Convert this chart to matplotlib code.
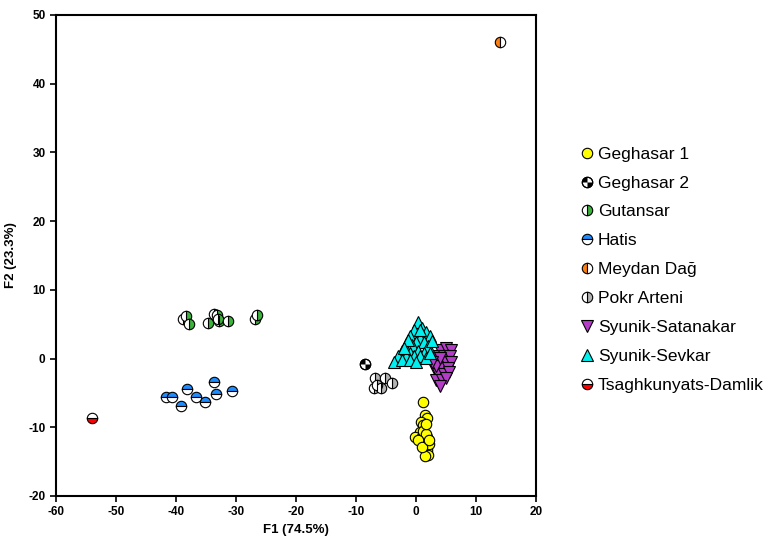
import numpy as np
import matplotlib
matplotlib.use('Agg')
import matplotlib.pyplot as plt
from matplotlib.path import Path
from matplotlib.legend_handler import HandlerTuple

plt.rcParams['font.family'] = ['Liberation Sans', 'DejaVu Sans']
plt.rcParams['axes.unicode_minus'] = False

# PCA scores
geghasar1_x = [1.1, 1.5, 1.8, 0.8, 1.2, 0.7, -0.2, 0.9, 1.8, 1.5, 1.8, 2.0, 1.5,
               1.2, 1.6, 2.1, 0.3, 1.0, 1.7, 2.2]
geghasar1_y = [-6.3, -8.2, -8.7, -9.2, -9.7, -10.7, -11.4, -11.6, -11.4, -12.0, -13.3, -14.0, -14.2,
               -10.5, -11.0, -12.4, -11.8, -12.8, -9.5, -11.8]
geghasar2_x = [-8.5]
geghasar2_y = [-0.8]
gutansar_x = [-38.8, -38.3, -37.8, -34.7, -33.7, -33.2, -32.8, -31.3, -26.8, -26.45, -33.0]
gutansar_y = [5.7, 6.2, 5.1, 5.2, 6.5, 6.3, 5.4, 5.5, 5.7, 6.3, 5.8]
hatis_x = [-41.7, -40.6, -38.1, -39.1, -36.6, -35.1, -33.7, -33.3, -30.6]
hatis_y = [-5.6, -5.6, -4.5, -6.9, -5.6, -6.3, -3.4, -5.1, -4.7]
meydan_x = [14.0]
meydan_y = [46.1]
pokr_x = [-6.8, -5.2, -4.0, -7.0, -5.8, -6.5]
pokr_y = [-2.9, -2.9, -3.6, -4.3, -4.3, -3.9]
satanakar_x = [4.0, 5.0, 5.8, 3.3, 4.7, 5.6, 3.7, 5.0, 5.8, 3.0, 4.3, 5.3, 3.7, 4.7, 5.5,
               3.3, 4.3, 5.0, 4.0, 3.3, 4.0, 2.7]
satanakar_y = [1.2, 1.5, 1.2, 0.4, 0.4, 0.4, -0.5, -0.5, -0.5, -1.4, -1.4, -1.4, -2.3, -2.3, -2.0,
               -3.1, -3.1, -2.8, -4.0, -1.1, 0.1, -0.5]
sevkar_x = [0.3, 1.0, -0.3, 1.7, 2.3, -1.0, 0.7, 0.0, 1.3, -1.7, -0.7, 2.0, -2.3, 0.3, -1.0,
            1.3, -3.0, -1.7, -0.3, -3.7, -2.3, 0.7, 1.7, -1.0, 2.3, 0.0, 2.7, -1.3, 0.7, -2.0]
sevkar_y = [5.3, 4.4, 4.1, 3.9, 3.3, 3.3, 3.0, 2.4, 2.4, 2.1, 1.9, 1.8, 1.1, 1.1, 0.8,
            0.8, 0.4, 0.4, 0.4, -0.5, -0.2, 0.4, 0.1, -0.2, 0.8, -0.5, 2.6, 2.7, 4.1, 1.5]
tsagh_x = [-54.0]
tsagh_y = [-8.7]

fig = plt.figure(figsize=(7.64, 5.43), dpi=100)
ax = fig.add_axes([0.0733, 0.0866, 0.6283, 0.8858])

ms = 7.5
tms = 9
ec = 'black'
mew = 0.8

handles = []
labels = []

h = ax.plot(geghasar1_x, geghasar1_y, 'o', ms=ms, mfc='#ffff00', mec=ec, mew=mew, ls='none')[0]
handles.append(h)
labels.append('Geghasar 1')

# quartered black/white circle
quarters = Path.make_compound_path(Path.wedge(90, 180), Path.wedge(270, 360))
h1 = ax.plot(geghasar2_x, geghasar2_y, 'o', ms=ms, mfc='white', mec=ec, mew=mew, ls='none')[0]
h2 = ax.plot(geghasar2_x, geghasar2_y, marker=quarters, ms=ms, mfc='black', mec='none', ls='none')[0]
h3 = ax.plot(geghasar2_x, geghasar2_y, 'o', ms=ms, mfc='none', mec=ec, mew=mew, ls='none')[0]
handles.append((h1, h2, h3))
labels.append('Geghasar 2')

h = ax.plot(gutansar_x, gutansar_y, 'o', ms=ms, fillstyle='right', mfc='#3cb43c',
            mfcalt='white', mec=ec, mew=mew, ls='none')[0]
handles.append(h)
labels.append('Gutansar')

h = ax.plot(hatis_x, hatis_y, 'o', ms=ms, fillstyle='top', mfc='#1e8cff',
            mfcalt='white', mec=ec, mew=mew, ls='none')[0]
handles.append(h)
labels.append('Hatis')

h = ax.plot(meydan_x, meydan_y, 'o', ms=ms, fillstyle='left', mfc='#ff7f0e',
            mfcalt='white', mec=ec, mew=mew, ls='none')[0]
handles.append(h)
labels.append('Meydan Dağ')

h = ax.plot(pokr_x, pokr_y, 'o', ms=ms, fillstyle='right', mfc='#b4b4b4',
            mfcalt='white', mec=ec, mew=mew, ls='none')[0]
handles.append(h)
labels.append('Pokr Arteni')

h = ax.plot(satanakar_x, satanakar_y, 'v', ms=tms, mfc='#b43cc8', mec=ec, mew=mew, ls='none')[0]
handles.append(h)
labels.append('Syunik-Satanakar')

h = ax.plot(sevkar_x, sevkar_y, '^', ms=tms, mfc='#00f0f0', mec=ec, mew=mew, ls='none')[0]
handles.append(h)
labels.append('Syunik-Sevkar')

h = ax.plot(tsagh_x, tsagh_y, 'o', ms=ms, fillstyle='bottom', mfc='#ff0000',
            mfcalt='white', mec=ec, mew=mew, ls='none')[0]
handles.append(h)
labels.append('Tsaghkunyats-Damlik')

ax.set_xlim(-60, 20)
ax.set_ylim(-20, 50)
ax.set_xticks(np.arange(-60, 21, 10))
ax.set_yticks(np.arange(-20, 51, 10))
ax.tick_params(direction='out', length=4, width=1.2, labelsize=8.5)
for lab in ax.get_xticklabels() + ax.get_yticklabels():
    lab.set_fontweight('bold')
for s in ax.spines.values():
    s.set_linewidth(1.5)

ax.set_xlabel('F1 (74.5%)', fontsize=9.5, fontweight='bold', labelpad=4)
ax.set_ylabel('F2 (23.3%)', fontsize=9.5, fontweight='bold', labelpad=8)

fig.legend(handles, labels, loc='upper left', bbox_to_anchor=(0.759, 0.730),
           frameon=False, fontsize=12.5, handletextpad=0.25, labelspacing=0.79,
           handlelength=0.8, borderpad=0, borderaxespad=0,
           handler_map={tuple: HandlerTuple(ndivide=1)})

fig.savefig('out.png', dpi=100)
